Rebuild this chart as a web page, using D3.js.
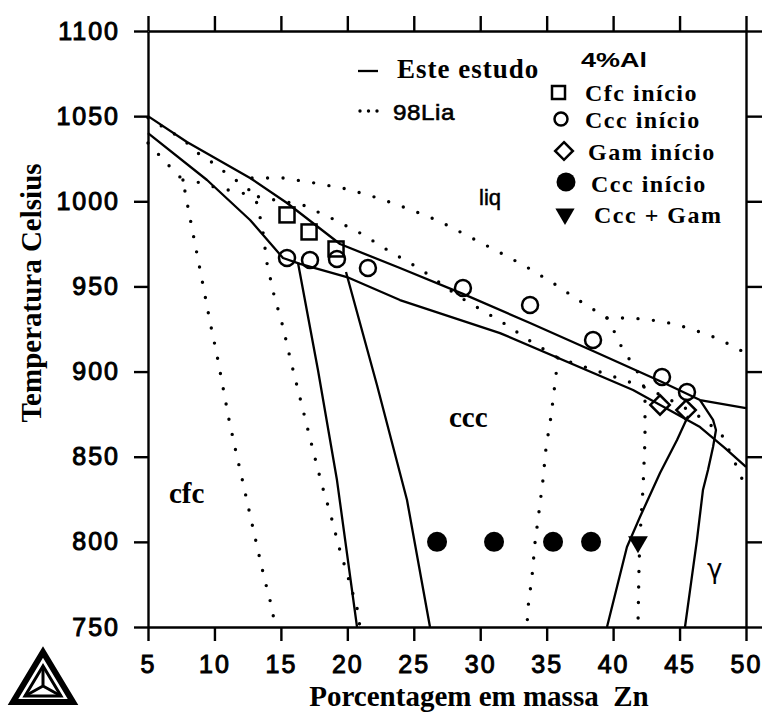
<!DOCTYPE html>
<html><head><meta charset="utf-8">
<script src="https://cdn.jsdelivr.net/npm/d3@7"></script>
<style>body{margin:0;background:#fff}svg{display:block}</style>
</head><body>
<svg id="chart" width="766" height="717"></svg>
<script>
// ---------- data ----------
const xTickValues = [5, 10, 15, 20, 25, 30, 35, 40, 45, 50];
const yTickValues = [750, 800, 850, 900, 950, 1000, 1050, 1100];

// "Este estudo" (solid) phase boundaries: [wt% Zn, T °C]
const liquidusSolid = [[5,1050],[7.93,1034.8],[12.68,1013.7],[15.46,999],[19.45,974.9],[23.96,960.8],[28.70,945.6],[33.75,928.5],[38.49,912.1],[43.68,893.9],[46.54,883.3],[50,878.6]];
const solidusSolid = [[5,1040],[9.44,1012.5],[12.68,989],[15.16,966.7],[16.44,963.2],[19.97,955.5],[23.96,942],[31.49,922.6],[41.5,889.2],[46.54,867.4],[48.42,855.1],[50,844]];
const cfcSolvusSolid = [[16.29,963.8],[17.79,900.9],[19.22,836.3],[20.73,750]];
const cccSolvusSolid = [[19.9,958.5],[22.23,892.1],[24.49,824.6],[26.22,750]];
const cccGamSolid = [[45.64,873.9],[44.81,859.8],[43.53,840.4],[42.02,814.6],[41.04,797],[39.54,750]];
const gamSolid = [[46.54,883.3],[47.52,871.6],[47.74,865.7],[47.52,855.7],[47.14,842.2],[46.76,830.4],[46.31,801.1],[45.79,771.7],[45.41,750]];

// "98Lia" (dotted) phase boundaries
const lia1 = [[5,1034.2],[5.83,1027.2],[6.73,1019.6],[7.63,1012.5],[7.86,1002.5],[8.31,984.3],[8.76,966.1],[9.21,947.9],[9.67,929.1],[10.19,909.7],[10.64,890.9],[11.1,871.6],[11.62,852.8],[12.15,834.6],[12.68,815.8],[13.2,797.6],[13.73,779.4],[14.33,761.2],[14.56,750]];
const lia2 = [[5,1049],[6.88,1040.1],[7.93,1034.2],[8.84,1027.8],[9.89,1022.5],[10.87,1016.6],[11.92,1010.7],[12.83,1005.4],[13.13,1000.7],[13.43,990.8],[13.65,982],[13.95,963.8],[14.48,945],[15.16,926.2],[15.69,908],[16.29,889.2],[16.89,870.4],[17.49,851.6],[18.09,833.4],[18.77,815.2],[19.37,797],[20.05,779.4],[20.73,761.2],[20.95,750]];
const lia3 = [[12.83,1013.7],[15.16,1013.7],[17.57,1010.7],[19.97,1007.2],[22.31,1001.9],[24.64,995.5],[26.9,988.4],[29.08,979.6],[31.26,970.8],[33.37,962],[35.48,952],[37.51,941.4],[39.54,931.5],[40.22,921.5],[40.74,912.7],[41.42,905],[42.02,897.4],[42.4,889.2],[42.4,859.8],[42.25,831.6],[42.02,802.9],[41.95,785.2],[41.87,750]];
const lia4 = [[39.54,931.5],[40.97,931.5],[42.25,930.9],[43.38,929.7],[44.66,927.9],[45.86,925],[46.99,922.1],[48.12,918.5],[49.25,913.8],[50,910.9]];
const lia5 = [[7.63,1012.5],[9.14,1010.7],[10.19,1007.8],[11.47,1006],[12.68,1003.7],[14.56,1000.7],[16.66,997.8],[18.92,989.6],[21.1,980.8],[23.14,970.8],[25.24,961.4],[26.37,955.5],[28.33,944.4],[29.46,939.1],[31.64,929.1],[33.75,918],[35.85,908],[37.88,902.7],[40.14,896.8],[42.55,890.3],[45.03,880.4],[46.91,871.6],[48.19,862.7],[49.25,845.1],[50,831.6]];
const lia6 = [[35.85,908],[35.63,893.3],[35.33,873.9],[34.95,855.1],[34.72,836.3],[34.42,817.5],[34.12,799.3],[33.9,779.9],[33.59,761.2],[33.52,750]];

// experimental points
const cfcStart = [[15.46,992],[17.12,982],[19.15,972]];
const cccStartOpen = [[15.46,966.7],[17.19,965.5],[19.22,966.1],[21.55,960.8],[28.7,949.1],[33.75,939.1],[38.49,918.5],[43.68,896.8],[45.56,888]];
const gamStart = [[43.53,880.4],[45.49,877.4]];
const cccStartFilled = [[26.75,800],[31.04,800],[35.48,800],[38.34,800]];
const cccGamPoints = [[41.87,800]];

const legendLines = ["Este estudo", "98Lia"];
const legendTitle = "4%Al";
const legendMarkers = ["Cfc início", "Ccc início", "Gam início", "Ccc início", "Ccc + Gam"];

// ---------- drawing ----------
const svg = d3.select("#chart");
const L = 148, R = 746, T = 31, B = 627;
const x = d3.scaleLinear().domain([5, 50]).range([L, R]);
const y = d3.scaleLinear().domain([750, 1100]).range([B, T]);

const tickFont = "'Liberation Sans', Arial, sans-serif";
const serif = "'Liberation Serif', 'Times New Roman', serif";

function styleAxis(g) {
  g.select(".domain").attr("stroke", "#000").attr("stroke-width", 2.4);
  g.selectAll(".tick line").attr("stroke", "#000").attr("stroke-width", 2.4);
  g.selectAll(".tick text").attr("fill", "#000").attr("font-family", tickFont)
    .attr("font-size", 25).attr("letter-spacing", 2).attr("stroke", "#000").attr("stroke-width", 1);
}
svg.append("g").attr("transform", `translate(0,${B})`)
  .call(d3.axisBottom(x).tickValues(xTickValues).tickSize(14).tickSizeOuter(0).tickPadding(14).tickFormat(d3.format("d")))
  .call(styleAxis);
svg.append("g").attr("transform", `translate(${L},0)`)
  .call(d3.axisLeft(y).tickValues(yTickValues).tickSize(14).tickSizeOuter(0).tickPadding(14).tickFormat(d3.format("d")))
  .call(styleAxis);
svg.append("g").attr("transform", `translate(0,${T})`)
  .call(d3.axisTop(x).tickValues(xTickValues).tickSize(15).tickSizeOuter(0).tickFormat(""))
  .call(styleAxis);
svg.append("g").attr("transform", `translate(${R},0)`)
  .call(d3.axisRight(y).tickValues(yTickValues).tickSize(16).tickSizeOuter(0).tickFormat(""))
  .call(styleAxis);

const line = d3.line().x(d => x(d[0])).y(d => y(d[1]));
const solid = [liquidusSolid, solidusSolid, cfcSolvusSolid, cccSolvusSolid, cccGamSolid, gamSolid];
const dotted = [lia1, lia2, lia3, lia4, lia5, lia6];

svg.append("g").selectAll("path").data(dotted).join("path")
  .attr("d", line).attr("fill", "none").attr("stroke", "#000")
  .attr("stroke-width", 3.4).attr("stroke-linecap", "round").attr("stroke-dasharray", "0 15.5");
svg.append("g").selectAll("path").data(solid).join("path")
  .attr("d", line).attr("fill", "none").attr("stroke", "#000")
  .attr("stroke-width", 2.3).attr("stroke-linejoin", "round");

// markers
const mk = svg.append("g");
mk.selectAll(".sq").data(cfcStart).join("rect")
  .attr("x", d => x(d[0]) - 7.5).attr("y", d => y(d[1]) - 7.5).attr("width", 15).attr("height", 15)
  .attr("fill", "none").attr("stroke", "#000").attr("stroke-width", 2.5);
mk.selectAll(".ci").data(cccStartOpen).join("circle")
  .attr("cx", d => x(d[0])).attr("cy", d => y(d[1])).attr("r", 8)
  .attr("fill", "none").attr("stroke", "#000").attr("stroke-width", 2.5);
mk.selectAll(".di").data(gamStart).join("path")
  .attr("d", d3.symbol(d3.symbolDiamond2, 240))
  .attr("transform", d => `translate(${x(d[0])},${y(d[1])})`)
  .attr("fill", "none").attr("stroke", "#000").attr("stroke-width", 2.5);
mk.selectAll(".fc").data(cccStartFilled).join("circle")
  .attr("cx", d => x(d[0])).attr("cy", d => y(d[1])).attr("r", 10).attr("fill", "#000");
mk.selectAll(".tr").data(cccGamPoints).join("path")
  .attr("d", d3.symbol(d3.symbolTriangle, 170))
  .attr("transform", d => `translate(${x(d[0])},${y(d[1])}) rotate(180)`)
  .attr("fill", "#000");

// legend (lines)
const lg = svg.append("g");
lg.append("line").attr("x1", 358).attr("x2", 378).attr("y1", 71).attr("y2", 71).attr("stroke", "#000").attr("stroke-width", 2.3);
lg.append("text").attr("x", 397).attr("y", 78).text(legendLines[0])
  .attr("font-family", serif).attr("font-weight", "bold").attr("font-size", 27).attr("letter-spacing", 1);
lg.append("line").attr("x1", 360).attr("x2", 378).attr("y1", 111).attr("y2", 111).attr("stroke", "#000")
  .attr("stroke-width", 3.4).attr("stroke-linecap", "round").attr("stroke-dasharray", "0 8.5");
lg.append("text").attr("x", 393).attr("y", 120).text(legendLines[1])
  .attr("font-family", tickFont).attr("font-size", 22).attr("letter-spacing", 0.5).attr("stroke", "#000").attr("stroke-width", 0.6)
  .attr("textLength", 62).attr("lengthAdjust", "spacingAndGlyphs");
lg.append("text").attr("x", 581).attr("y", 67).text(legendTitle)
  .attr("font-family", tickFont).attr("font-weight", "bold").attr("font-size", 21)
  .attr("textLength", 66).attr("lengthAdjust", "spacingAndGlyphs");

// legend (markers)
const rowsY = [93, 119, 151, 182, 214];
const textX = [585, 585, 588, 591, 594];
const textY = [101, 128, 160, 192, 223];
lg.append("rect").attr("x", 552).attr("y", rowsY[0] - 7).attr("width", 13).attr("height", 13)
  .attr("fill", "none").attr("stroke", "#000").attr("stroke-width", 2.5);
lg.append("circle").attr("cx", 561).attr("cy", rowsY[1]).attr("r", 6.5)
  .attr("fill", "none").attr("stroke", "#000").attr("stroke-width", 2.5);
lg.append("path").attr("d", d3.symbol(d3.symbolDiamond2, 200))
  .attr("transform", `translate(564,${rowsY[2]})`)
  .attr("fill", "none").attr("stroke", "#000").attr("stroke-width", 2.5);
lg.append("circle").attr("cx", 566).attr("cy", rowsY[3]).attr("r", 9.5).attr("fill", "#000");
lg.append("path").attr("d", d3.symbol(d3.symbolTriangle, 160))
  .attr("transform", `translate(565,${rowsY[4]}) rotate(180)`).attr("fill", "#000");
lg.selectAll(".lt").data(legendMarkers).join("text")
  .attr("x", (d, i) => textX[i]).attr("y", (d, i) => textY[i]).text(d => d)
  .attr("font-family", serif).attr("font-weight", "bold").attr("font-size", 24).attr("letter-spacing", 1.5);

// region labels
svg.append("text").attr("x", 479).attr("y", 205).text("liq")
  .attr("font-family", tickFont).attr("font-size", 22).attr("stroke", "#000").attr("stroke-width", 0.5);
svg.append("text").attr("x", 449).attr("y", 427).text("ccc")
  .attr("font-family", serif).attr("font-weight", "bold").attr("font-size", 29);
svg.append("text").attr("x", 169).attr("y", 503).text("cfc")
  .attr("font-family", serif).attr("font-weight", "bold").attr("font-size", 29);
svg.append("text").attr("x", 707).attr("y", 578).text("γ")
  .attr("font-family", "'DejaVu Sans', sans-serif").attr("font-size", 26);

// axis titles
svg.append("text").attr("transform", "translate(41,293) rotate(-90)").attr("text-anchor", "middle")
  .text("Temperatura Celsius").attr("font-family", serif).attr("font-weight", "bold").attr("font-size", 29);
svg.append("text").attr("x", 479).attr("y", 706).attr("text-anchor", "middle").style("white-space", "pre")
  .text("Porcentagem em massa  Zn").attr("font-family", serif).attr("font-weight", "bold").attr("font-size", 29);

// logo
const logo = svg.append("g").attr("fill", "none").attr("stroke", "#000").attr("stroke-linejoin", "miter");
logo.append("path").attr("d", "M43,652 L13,702 L73,702 Z").attr("stroke-width", 6);
logo.append("path").attr("d", "M43,666 L25,696 L61,696 Z").attr("stroke-width", 3);
logo.append("path").attr("d", "M43,666 L43,686 M43,686 L25,696 M43,686 L61,696").attr("stroke-width", 3);
</script>
</body></html>
